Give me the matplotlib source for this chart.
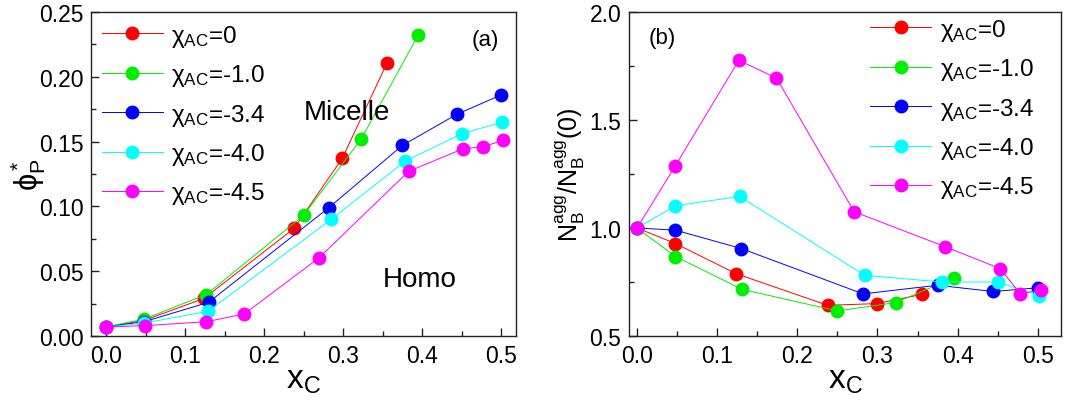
import matplotlib
matplotlib.use('Agg')
import matplotlib.pyplot as plt
from matplotlib.ticker import MultipleLocator

plt.rcParams['font.family'] = ['Liberation Sans', 'DejaVu Sans']
plt.rcParams['mathtext.fontset'] = 'custom'
plt.rcParams['mathtext.rm'] = 'Liberation Sans'
plt.rcParams['mathtext.it'] = 'Liberation Sans'
plt.rcParams['mathtext.default'] = 'regular'

labels = ['0', '-1.0', '-3.4', '-4.0', '-4.5']
colors = ['#ff0000', '#00ee00', '#0000ff', '#00ffff', '#ff00ff']

# (a) critical concentration phi_P* vs x_C
xa = [
    [0.0, 0.048, 0.124, 0.238, 0.299, 0.356],
    [0.0, 0.048, 0.127, 0.250, 0.323, 0.395],
    [0.0, 0.048, 0.130, 0.282, 0.375, 0.444, 0.500],
    [0.0, 0.048, 0.129, 0.285, 0.379, 0.450, 0.501],
    [0.0, 0.049, 0.127, 0.175, 0.269, 0.383, 0.452, 0.477, 0.503],
]
ya = [
    [0.007, 0.012, 0.029, 0.083, 0.137, 0.211],
    [0.007, 0.013, 0.032, 0.093, 0.152, 0.232],
    [0.007, 0.011, 0.026, 0.099, 0.147, 0.171, 0.186],
    [0.007, 0.010, 0.019, 0.090, 0.135, 0.156, 0.165],
    [0.007, 0.008, 0.011, 0.017, 0.060, 0.127, 0.1445, 0.146, 0.151],
]

# (b) relative aggregation number vs x_C
xb = [
    [0.0, 0.048, 0.124, 0.238, 0.299, 0.356],
    [0.0, 0.048, 0.131, 0.250, 0.323, 0.395],
    [0.0, 0.048, 0.130, 0.282, 0.375, 0.444, 0.500],
    [0.0, 0.048, 0.128, 0.284, 0.380, 0.450, 0.502],
    [0.0, 0.048, 0.127, 0.174, 0.271, 0.384, 0.453, 0.478, 0.504],
]
yb = [
    [1.0, 0.928, 0.788, 0.642, 0.650, 0.693],
    [1.0, 0.868, 0.716, 0.616, 0.655, 0.769],
    [1.0, 0.990, 0.905, 0.695, 0.735, 0.706, 0.723],
    [1.0, 1.103, 1.146, 0.781, 0.750, 0.750, 0.686],
    [1.0, 1.289, 1.776, 1.694, 1.075, 0.914, 0.812, 0.696, 0.713],
]

fig = plt.figure(figsize=(10.71, 4.02), dpi=100)
ax1 = fig.add_axes([0.085, 0.1617, 0.3968, 0.806])
ax2 = fig.add_axes([0.5873, 0.1617, 0.4034, 0.806])


def style(ax):
    ax.tick_params(which='both', direction='in', top=False, right=False,
                   labelsize=16.5, width=1, colors='#222222', labelcolor='black')
    ax.tick_params(which='major', length=6, pad=5.5)
    ax.tick_params(which='minor', length=3.5)
    for s in ax.spines.values():
        s.set_linewidth(1)
        s.set_color('#222222')
    ax.xaxis.set_major_locator(MultipleLocator(0.1))
    ax.xaxis.set_minor_locator(MultipleLocator(0.05))
    ax.set_xlabel('$x_C$', fontsize=24, labelpad=-2)


def legend(ax, loc, anchor):
    ax.legend(loc=loc, bbox_to_anchor=anchor, frameon=False, fontsize=17.5,
              handlelength=2.5, labelspacing=0.55, handletextpad=0.35,
              borderaxespad=0.25, borderpad=0.2)


for xs, ys, lab, c in zip(xa, ya, labels, colors):
    ax1.plot(xs, ys, '-o', color=c, lw=0.7, ms=9, label=r'$\chi_{AC}$=' + lab)
for xs, ys, lab, c in zip(xb, yb, labels, colors):
    ax2.plot(xs, ys, '-o', color=c, lw=0.7, ms=9, label=r'$\chi_{AC}$=' + lab)

style(ax1)
ax1.set_xlim(-0.019, 0.519)
ax1.set_ylim(0, 0.25)
ax1.yaxis.set_major_locator(MultipleLocator(0.05))
ax1.yaxis.set_minor_locator(MultipleLocator(0.025))
ax1.yaxis.set_major_formatter(matplotlib.ticker.FormatStrFormatter('%.2f'))
ax1.set_ylabel(r'$\phi_P^*$', fontsize=22, labelpad=-7)
ax1.text(0.305, 0.173, 'Micelle', fontsize=20, ha='center', va='center')
ax1.text(0.397, 0.044, 'Homo', fontsize=20, ha='center', va='center')
ax1.text(0.48, 0.229, '(a)', fontsize=16, ha='center', va='center')
legend(ax1, 'upper left', (0.0, 1.0))

style(ax2)
ax2.set_xlim(-0.01, 0.529)
ax2.set_ylim(0.5, 2.0)
ax2.yaxis.set_major_locator(MultipleLocator(0.5))
ax2.yaxis.set_minor_locator(MultipleLocator(0.25))
ax2.yaxis.set_major_formatter(matplotlib.ticker.FormatStrFormatter('%.1f'))
ax2.set_ylabel(r'$N_B^{agg}/N_B^{agg}(0)$', fontsize=18, labelpad=2)
ax2.text(0.032, 1.88, '(b)', fontsize=16, ha='center', va='center')
legend(ax2, 'upper right', (0.963, 1.0185))

fig.savefig('out.png', dpi=100)
